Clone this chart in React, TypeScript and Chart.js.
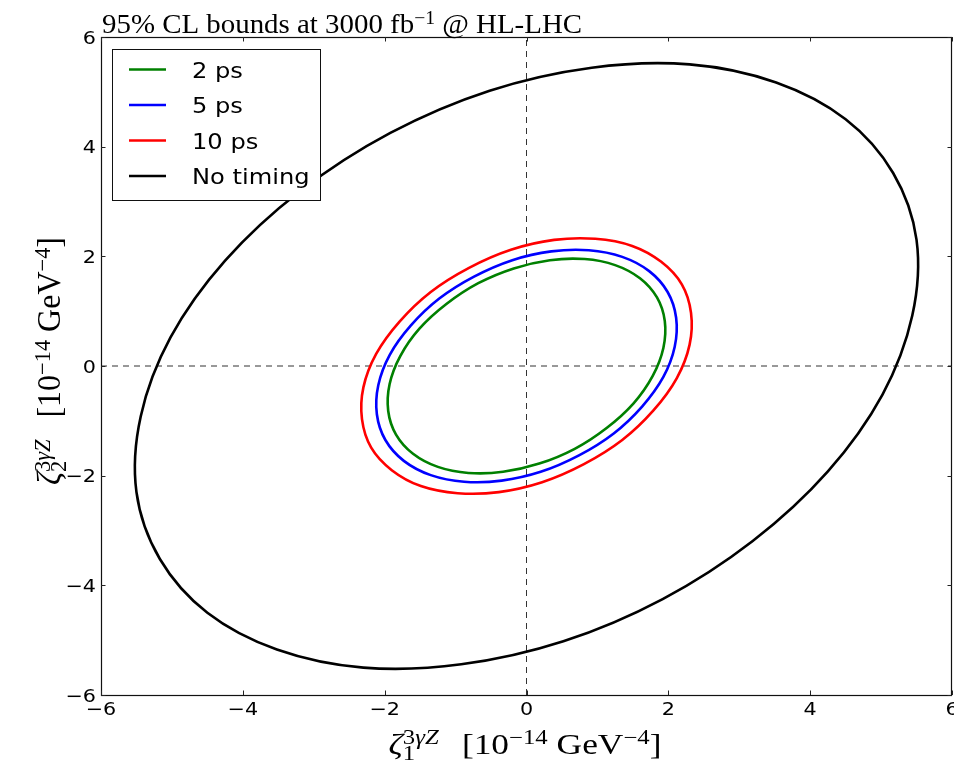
import React, { useEffect, useRef } from 'react';
import { Chart, registerables } from 'chart.js';

Chart.register(...registerables);

// ---------- data ----------
const xTicks = [-6, -4, -2, 0, 2, 4, 6];
const yTicks = [-6, -4, -2, 0, 2, 4, 6];
const xRange = [-6, 6];
const yRange = [-6, 6];

const seriesLabels = ['2 ps', '5 ps', '10 ps', 'No timing'];
const seriesColors = ['#008000', '#0000ff', '#ff0000', '#000000'];

const curve2ps: [number, number][] = [
  [1.60, 1.60], [1.25, 1.84], [0.82, 1.95], [0.33, 1.93], [-0.18, 1.78], [-0.68, 1.51],
  [-1.13, 1.13], [-1.51, 0.68], [-1.78, 0.18], [-1.93, -0.33], [-1.95, -0.82], [-1.84, -1.25],
  [-1.60, -1.60], [-1.25, -1.84], [-0.82, -1.95], [-0.33, -1.93], [0.18, -1.78], [0.68, -1.51],
  [1.13, -1.13], [1.51, -0.68], [1.78, -0.18], [1.93, 0.33], [1.95, 0.82], [1.84, 1.25],
];

const curve5ps: [number, number][] = [
  [1.73, 1.73], [1.35, 1.99], [0.88, 2.11], [0.35, 2.09], [-0.20, 1.93], [-0.74, 1.63],
  [-1.23, 1.23], [-1.63, 0.74], [-1.93, 0.20], [-2.09, -0.35], [-2.11, -0.88], [-1.99, -1.35],
  [-1.73, -1.73], [-1.35, -1.99], [-0.88, -2.11], [-0.35, -2.09], [0.20, -1.93], [0.74, -1.63],
  [1.23, -1.23], [1.63, -0.74], [1.93, -0.20], [2.09, 0.35], [2.11, 0.88], [1.99, 1.35],
];

const curve10ps: [number, number][] = [
  [1.90, 1.90], [1.49, 2.19], [0.97, 2.32], [0.39, 2.30], [-0.22, 2.12], [-0.81, 1.79],
  [-1.35, 1.35], [-1.79, 0.81], [-2.12, 0.22], [-2.30, -0.39], [-2.32, -0.97], [-2.19, -1.49],
  [-1.90, -1.90], [-1.49, -2.19], [-0.97, -2.32], [-0.39, -2.30], [0.22, -2.12], [0.81, -1.79],
  [1.35, -1.35], [1.79, -0.81], [2.12, -0.22], [2.30, 0.39], [2.32, 0.97], [2.19, 1.49],
];

const curveNoTiming: [number, number][] = [
  [4.50, 4.50], [3.52, 5.17], [2.30, 5.50], [0.92, 5.44], [-0.52, 5.02], [-1.92, 4.25],
  [-3.19, 3.19], [-4.25, 1.92], [-5.02, 0.52], [-5.44, -0.92], [-5.50, -2.30], [-5.17, -3.52],
  [-4.50, -4.50], [-3.52, -5.17], [-2.30, -5.50], [-0.92, -5.44], [0.52, -5.02], [1.92, -4.25],
  [3.19, -3.19], [4.25, -1.92], [5.02, -0.52], [5.44, 0.92], [5.50, 2.30], [5.17, 3.52],
];

const curves = [curve2ps, curve5ps, curve10ps, curveNoTiming];

// ---------- text helpers ----------
type Seg = { t?: string; size?: number; it?: boolean; dy?: number; stack?: boolean; gap?: number };

const SERIF = '"Liberation Serif", "Times New Roman", serif';
const SANS = '"DejaVu Sans", "Bitstream Vera Sans", sans-serif';

function segFont(s: Seg, base: number) {
  const px = base * (s.size ?? 1);
  return `${s.it ? 'italic ' : ''}${px}px ${SERIF}`;
}

function richWidth(ctx: CanvasRenderingContext2D, segs: Seg[], base: number) {
  let x = 0;
  for (const s of segs) {
    if (s.gap) { x += s.gap; continue; }
    ctx.font = segFont(s, base);
    const w = ctx.measureText(s.t || '').width;
    if (s.stack) continue;
    x += w;
  }
  return x;
}

function drawRich(ctx: CanvasRenderingContext2D, segs: Seg[], base: number, x0: number) {
  let x = x0;
  ctx.textAlign = 'left';
  ctx.textBaseline = 'alphabetic';
  for (const s of segs) {
    if (s.gap) { x += s.gap; continue; }
    ctx.font = segFont(s, base);
    ctx.fillText(s.t || '', x, s.dy || 0);
    const w = ctx.measureText(s.t || '').width;
    if (!s.stack) x += w;
  }
}

const titleSegs: Seg[] = [
  { t: '95% CL bounds at 3000 fb' },
  { t: '\u22121', size: 0.68, dy: -9 },
  { t: ' @ HL-LHC' },
];

function labelSegs(sub: string, gap: number): Seg[] {
  return [
    { t: '\u03b6', it: true },
    { t: sub, size: 0.7, dy: 6, stack: true },
    { t: '3', size: 0.7, dy: -10 },
    { t: '\u03b3Z', size: 0.7, it: true, dy: -10 },
    { gap },
    { t: '[10' },
    { t: '\u221214', size: 0.7, dy: -10 },
    { t: ' GeV' },
    { t: '\u22124', size: 0.7, dy: -10 },
    { t: ']' },
  ];
}

const xLabelSegs = labelSegs('1', 19);
const yLabelSegs = labelSegs('2', 22);

function fmtTick(v: number) {
  return v < 0 ? '\u2212' + Math.abs(v) : String(v);
}

const decorPlugin = {
  id: 'decor',
  beforeDraw(chart: any) {
    const ctx = chart.ctx as CanvasRenderingContext2D;
    ctx.save();
    ctx.fillStyle = '#ffffff';
    ctx.fillRect(0, 0, chart.width, chart.height);
    ctx.restore();
  },
  afterDatasetsDraw(chart: any) {
    const ctx = chart.ctx as CanvasRenderingContext2D;
    const a = chart.chartArea;
    const xs = chart.scales.x;
    const ys = chart.scales.y;
    ctx.save();

    // frame
    ctx.strokeStyle = '#111';
    ctx.lineWidth = 1.2;
    ctx.strokeRect(Math.round(a.left) + 0.5, Math.round(a.top) + 0.5, Math.round(a.right - a.left) - 1, Math.round(a.bottom - a.top));

    // inward ticks on all sides
    ctx.lineWidth = 1;
    ctx.strokeStyle = '#222';
    const TL = 4.5;
    for (const v of xTicks) {
      const px = Math.round(xs.getPixelForValue(v)) + 0.5;
      ctx.beginPath();
      ctx.moveTo(px, a.bottom); ctx.lineTo(px, a.bottom - TL);
      ctx.moveTo(px, a.top); ctx.lineTo(px, a.top + TL);
      ctx.stroke();
    }
    for (const v of yTicks) {
      const py = Math.round(ys.getPixelForValue(v)) + 0.5;
      ctx.beginPath();
      ctx.moveTo(a.left, py); ctx.lineTo(a.left + TL, py);
      ctx.moveTo(a.right, py); ctx.lineTo(a.right - TL, py);
      ctx.stroke();
    }

    // tick labels
    ctx.fillStyle = '#000';
    ctx.font = `18px ${SANS}`;
    const SXT = 1.15;
    ctx.textBaseline = 'alphabetic';
    for (const v of xTicks) {
      const px = xs.getPixelForValue(v);
      ctx.save();
      ctx.translate(px, a.bottom + 20);
      ctx.scale(SXT, 1);
      ctx.textAlign = 'center';
      ctx.fillText(fmtTick(v), 0, 0);
      ctx.restore();
    }
    for (const v of yTicks) {
      const py = ys.getPixelForValue(v);
      ctx.save();
      ctx.translate(a.left - 5, py + 6.5);
      ctx.scale(SXT, 1);
      ctx.textAlign = 'right';
      ctx.fillText(fmtTick(v), 0, 0);
      ctx.restore();
    }

    // legend
    const lx = 112.5, ly = 49.5, lw = 208, lh = 151;
    ctx.fillStyle = '#fff';
    ctx.fillRect(lx, ly, lw, lh);
    ctx.strokeStyle = '#111';
    ctx.lineWidth = 1;
    ctx.strokeRect(lx, ly, lw, lh);
    const rows = [69.5, 105, 140.5, 176];
    seriesLabels.forEach((lab, i) => {
      const ry = rows[i];
      ctx.strokeStyle = seriesColors[i];
      ctx.lineWidth = 2.5;
      ctx.beginPath();
      ctx.moveTo(129, ry); ctx.lineTo(166, ry);
      ctx.stroke();
      ctx.save();
      ctx.translate(192, ry + 8);
      ctx.scale(1.15, 1);
      ctx.fillStyle = '#000';
      ctx.font = `21px ${SANS}`;
      ctx.textAlign = 'left';
      ctx.fillText(lab, 0, 0);
      ctx.restore();
    });

    // title
    ctx.fillStyle = '#000';
    ctx.save();
    ctx.translate(102, 33);
    ctx.scale(1.07, 1);
    drawRich(ctx, titleSegs, 27, 0);
    ctx.restore();

    // x label
    ctx.save();
    ctx.translate(525, 754);
    ctx.scale(1.22, 1);
    const wx = richWidth(ctx, xLabelSegs, 29);
    drawRich(ctx, xLabelSegs, 29, -wx / 2);
    ctx.restore();

    // y label
    ctx.save();
    ctx.translate(60, 361);
    ctx.rotate(-Math.PI / 2);
    ctx.scale(1, 1.05);
    const wy = richWidth(ctx, yLabelSegs, 32);
    drawRich(ctx, yLabelSegs, 32, -wy / 2);
    ctx.restore();

    ctx.restore();
  },
};

function closedData(pts: [number, number][]) {
  const n = pts.length;
  const seq = [pts[n - 1], ...pts, pts[0], pts[1]];
  return seq.map(([x, y]) => ({ x, y }));
}

export default function App() {
  const ref = useRef<HTMLCanvasElement | null>(null);

  useEffect(() => {
    if (!ref.current) return;
    const ellipseSets = curves.map((c, i) => {
      const data = closedData(c);
      const last = data.length - 1;
      return {
        label: seriesLabels[i],
        data,
        showLine: true,
        borderColor: seriesColors[i],
        borderWidth: 2.6,
        pointRadius: 0,
        tension: 0.34,
        fill: false,
        segment: {
          borderColor: (sc: any) =>
            sc.p0DataIndex === 0 || sc.p1DataIndex === last ? 'rgba(0,0,0,0)' : seriesColors[i],
        },
      };
    });
    const dashSets = [
      { label: 'x0', data: [{ x: 0, y: yRange[0] }, { x: 0, y: yRange[1] }] },
      { label: 'y0', data: [{ x: xRange[0], y: 0 }, { x: xRange[1], y: 0 }] },
    ].map((d) => ({
      ...d,
      showLine: true,
      borderColor: '#333',
      borderWidth: 1,
      borderDash: [6, 5],
      pointRadius: 0,
      tension: 0,
      fill: false,
    }));

    const chart = new Chart(ref.current, {
      type: 'scatter',
      data: { datasets: [...ellipseSets, ...dashSets] as any },
      options: {
        animation: false,
        responsive: false,
        devicePixelRatio: 1,
        layout: { padding: { left: 101, right: 2, top: 37, bottom: 65 } },
        plugins: { legend: { display: false }, tooltip: { enabled: false }, title: { display: false } },
        scales: {
          x: { type: 'linear', min: xRange[0], max: xRange[1], display: false },
          y: { type: 'linear', min: yRange[0], max: yRange[1], display: false },
        },
      },
      plugins: [decorPlugin],
    });
    return () => chart.destroy();
  }, []);

  return (
    <div style={{ position: 'fixed', left: 0, top: 0, width: 954, height: 760, background: '#fff' }}>
      <canvas ref={ref} width={954} height={760} style={{ width: 954, height: 760, display: 'block' }} />
    </div>
  );
}
